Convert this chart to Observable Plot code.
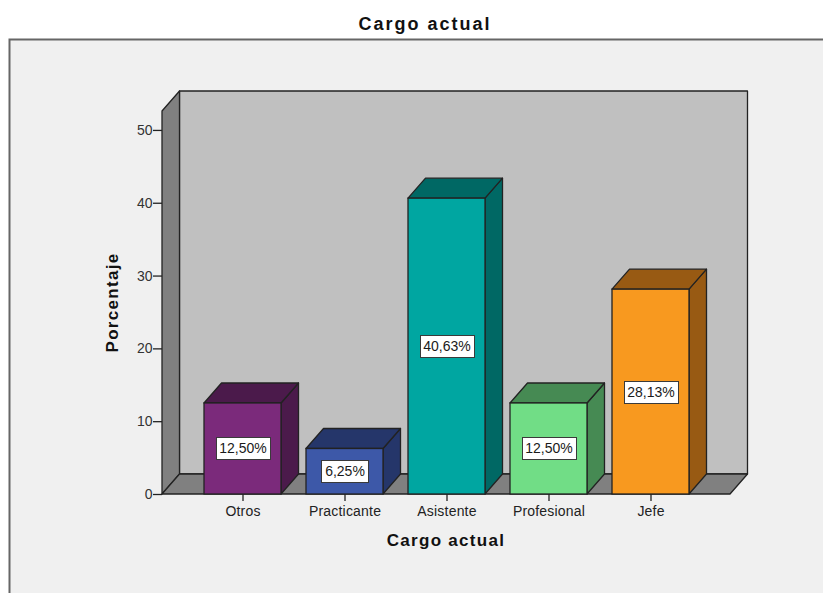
<!DOCTYPE html>
<html>
<head>
<meta charset="utf-8">
<script src="https://cdn.jsdelivr.net/npm/d3@7"></script>
<script src="https://cdn.jsdelivr.net/npm/@observablehq/plot@0.6"></script>
<style>
  html, body { margin: 0; padding: 0; background: #ffffff; }
  #chart svg { display: block; }
  g[aria-label="x-axis tick label"] text { letter-spacing: 0.2px; }
</style>
</head>
<body>
<div id="chart"></div>
<script>
// Cargo actual: percentage of respondents by current position
const categories = ["Otros", "Practicante", "Asistente", "Profesional", "Jefe"];
const percentages = [12.50, 6.25, 40.63, 12.50, 28.13];
const frontColors = ["#7b2a7b", "#3d58a8", "#00a6a1", "#71dd86", "#f8991f"];
const shadeColors = ["#4b1a4b", "#25366a", "#006864", "#468a53", "#985a13"];
const yTicks = [0, 10, 20, 30, 40, 50];
const chartTitle = "Cargo actual";
const xTitle = "Cargo actual";
const yTitle = "Porcentaje";

const bars = categories.map((cargo, i) => ({
  cargo,
  pct: percentages[i],
  front: frontColors[i],
  shade: shadeColors[i],
  label: percentages[i].toFixed(2).replace(".", ",") + "%"
}));

// pseudo-3D depth of walls and bars, in pixels
const depthX = 17.5, depthY = -20;
const yMax = 52.6;
const FONT = "'Liberation Sans', Arial, sans-serif";

const SVGNS = "http://www.w3.org/2000/svg";
function el(tag, attrs, text) {
  const e = document.createElementNS(SVGNS, tag);
  for (const k in attrs) e.setAttribute(k, attrs[k]);
  if (text != null) e.textContent = text;
  return e;
}
function poly(points, fill, stroke = "#222", width = 1.3) {
  return el("path", {
    d: "M" + points.map(p => p.join(",")).join("L") + "Z",
    fill, stroke, "stroke-width": width, "stroke-linejoin": "round"
  });
}

// light grey panel behind the chart
function panel(index, scales, values, dims) {
  const g = el("g", {});
  g.appendChild(el("rect", {
    x: 9.5, y: 39.5, width: dims.width + 20, height: dims.height + 20,
    fill: "#f0f0f0", stroke: "#666", "stroke-width": 2
  }));
  return g;
}

// back wall, left wall and floor of the 3D box
function walls(index, {x, y}) {
  const g = el("g", {});
  const [x0, x1] = x.range();
  const y0 = y(0), yt = y(yMax);
  g.appendChild(poly([[x0 + depthX, y0 + depthY], [x1 + depthX, y0 + depthY], [x1 + depthX, yt + depthY], [x0 + depthX, yt + depthY]], "#c0c0c0"));
  g.appendChild(poly([[x0, y0], [x0 + depthX, y0 + depthY], [x0 + depthX, yt + depthY], [x0, yt]], "#808080"));
  g.appendChild(poly([[x0, y0], [x1, y0], [x1 + depthX, y0 + depthY], [x0 + depthX, y0 + depthY]], "#808080"));
  return g;
}

// right side and top face of each bar
function barDepth(index, {x, y}) {
  const g = el("g", {});
  const bw = x.bandwidth();
  for (const d of bars) {
    const bx = x(d.cargo), top = y(d.pct), base = y(0);
    g.appendChild(poly([[bx + bw, base], [bx + bw + depthX, base + depthY], [bx + bw + depthX, top + depthY], [bx + bw, top]], d.shade));
    g.appendChild(poly([[bx, top], [bx + bw, top], [bx + bw + depthX, top + depthY], [bx + depthX, top + depthY]], d.shade));
  }
  return g;
}

// white boxes behind the value labels
const measure = document.createElement("canvas").getContext("2d");
measure.font = "14px " + FONT;
function labelBoxes(index, {x, y}) {
  const g = el("g", {});
  const bw = x.bandwidth();
  for (const d of bars) {
    const cx = x(d.cargo) + bw / 2, cy = y(d.pct / 2);
    const w = Math.round(measure.measureText(d.label).width + 7), h = 22;
    g.appendChild(el("rect", {
      x: Math.round(cx - w / 2) + 0.5, y: Math.round(cy - h / 2) + 0.5, width: w, height: h,
      fill: "#ffffff", stroke: "#3a3a3a", "stroke-width": 1
    }));
  }
  return g;
}

// chart title and the two axis titles
function titles(index, {x, y}) {
  const g = el("g", { "font-family": FONT, "font-weight": "bold", fill: "#111", "text-anchor": "middle" });
  const [x0, x1] = x.range();
  const [yb, yt] = y.range();
  const cx = (x0 + x1) / 2, cy = (yb + yt) / 2;
  g.appendChild(el("text", { x: cx - 21, y: 29.6, "font-size": 18, "letter-spacing": 2 }, chartTitle));
  g.appendChild(el("text", { x: cx, y: yb + 51.7, "font-size": 17, "letter-spacing": 1.3 }, xTitle));
  g.appendChild(el("text", { transform: `translate(${x0 - 44.5},${cy}) rotate(-90)`, "font-size": 17, "letter-spacing": 1.3 }, yTitle));
  return g;
}

const chart = Plot.plot({
  width: 823,
  height: 593,
  marginLeft: 162,
  marginRight: 93,
  marginTop: 111,
  marginBottom: 99,
  style: { fontFamily: FONT, fontSize: "14px", background: "#ffffff", overflow: "visible" },
  x: { domain: categories, paddingInner: 0.25, paddingOuter: 0.4 },
  y: { domain: [0, yMax] },
  marks: [
    panel,
    walls,
    barDepth,
    Plot.barY(bars, { x: "cargo", y: "pct", fill: "front", stroke: "#222", strokeWidth: 1.3 }),
    Plot.axisY(yTicks, { tickSize: 9, tickPadding: 1, label: null, stroke: "#222", fill: "#333", strokeWidth: 1.3, fontSize: 14 }),
    Plot.axisX({ tickSize: 7, tickPadding: 4.5, label: null, stroke: "#222", fill: "#222", strokeWidth: 1.3, fontSize: 14 }),
    labelBoxes,
    Plot.text(bars, { x: "cargo", y: d => d.pct / 2, text: "label", fontSize: 14, fill: "#1a1a1a" }),
    titles
  ]
});

document.getElementById("chart").appendChild(chart);
</script>
</body>
</html>
